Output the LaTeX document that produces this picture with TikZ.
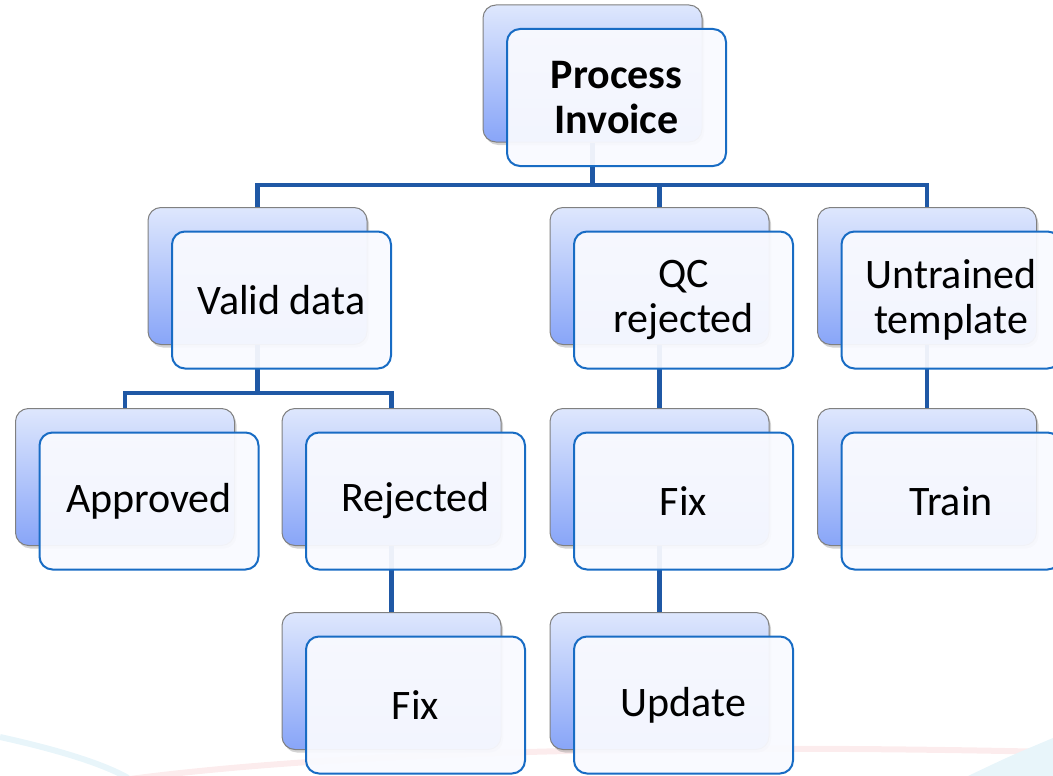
\documentclass[tikz,border=0pt]{standalone}
\usepackage{fontspec}
\setmainfont{Carlito}
\usetikzlibrary{shadows}
\definecolor{linkblue}{RGB}{31,88,165}
\definecolor{frontline}{RGB}{24,108,196}
\definecolor{frontfill}{RGB}{249,250,255}
\definecolor{backtop}{RGB}{222,231,253}
\definecolor{backbot}{RGB}{136,165,248}
\definecolor{backline}{RGB}{128,128,128}
\definecolor{swoosh}{RGB}{252,236,237}
\definecolor{swooshcyan}{RGB}{232,245,250}

\begin{document}
\begin{tikzpicture}[x=1pt, y=-1pt,
  backbox/.style={rectangle, rounded corners=13pt, minimum width=219pt, minimum height=137pt, inner sep=0pt,
    draw=backline, line width=1pt, top color=backtop, bottom color=backbot,
    drop shadow={shadow xshift=2pt, shadow yshift=-3pt, opacity=0.35}},
  frontbox/.style={rectangle, rounded corners=13pt, minimum width=219pt, minimum height=137pt, inner sep=0pt,
    draw=frontline, line width=2pt, fill=frontfill, fill opacity=0.94, text opacity=1,
    align=center, font=\fontsize{42}{45}\selectfont},
  link/.style={draw=linkblue, line width=4.2pt}]
\useasboundingbox (0,0) rectangle (1053,776);
\clip (0,0) rectangle (1053,776);
% faint background swooshes
\draw [swooshcyan, line width=6pt] (0,737) .. controls (50,748) and (100,762) .. (128,778);
\draw [swoosh, line width=6pt] (130,779) .. controls (350,750) and (700,744) .. (1053,752);
\fill [swooshcyan] (1053,738) .. controls (1010,756) .. (968,776) -- (1053,776) -- cycle;
% back boxes
\foreach \n/\x/\y in {pi/592.5/73.5, vd/257.5/276, qc/659.5/276, ut/927/276,
  ap/125/477, rj/391.5/477, fx/659.5/477, tr/927/477, fr/391.5/681, up/659.5/681}
  \node [backbox] (\n-back) at (\x,\y) {};
% connectors
\draw [link] (vd-back.north) -- ++(0,-22) -| (pi-back.south);
\draw [link] (qc-back.north) -- ++(0,-22) -| (pi-back.south);
\draw [link] (ut-back.north) -- ++(0,-22) -| (pi-back.south);
\draw [link] (ap-back.north) -- ++(0,-15) -| (vd-back.south);
\draw [link] (rj-back.north) -- ++(0,-15) -| (vd-back.south);
\draw [link] (qc-back.south) -- (fx-back.north);
\draw [link] (ut-back.south) -- (tr-back.north);
\draw [link] (rj-back.south) -- (fr-back.north);
\draw [link] (fx-back.south) -- (up-back.north);
% front boxes
\foreach \n/\txt in {pi/{\textbf{Process}\\\textbf{Invoice}}, vd/Valid data, qc/{QC\\rejected},
  ut/{Untrained\\template}, ap/Approved, rj/Rejected, fx/Fix, tr/Train, fr/Fix, up/Update}
  \node [frontbox] (\n) at ([shift={(24,24)}]\n-back.center) {\txt};
\end{tikzpicture}
\end{document}
